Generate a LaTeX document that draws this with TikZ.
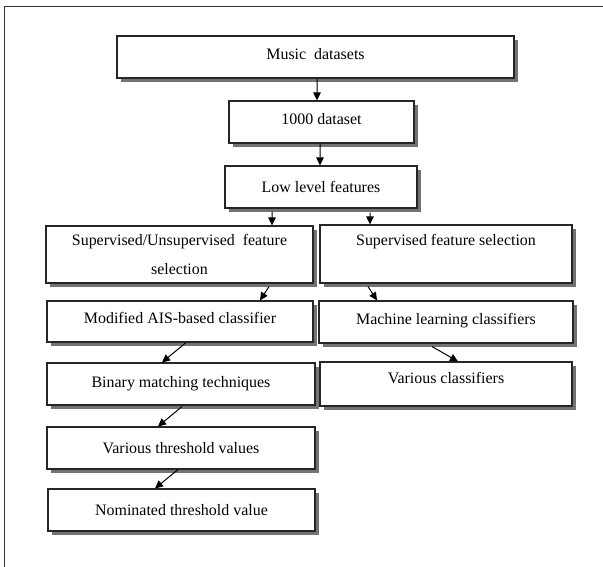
\documentclass[tikz,border=0pt]{standalone}
\usepackage{fontspec}
\setmainfont{Liberation Serif}
\usetikzlibrary{arrows.meta,shadows}
\tikzset{
  flowbox/.style={draw=black!85, line width=1.1bp, fill=white, inner sep=0pt,
    align=center, font=\fontsize{16}{19}\selectfont,
    general shadow={fill=black!55, shadow xshift=4bp, shadow yshift=-4bp}},
  flowarr/.style={draw=black, line width=1bp, -{Triangle[length=8bp,width=7.5bp]}},
  frameline/.style={draw=black!80, line width=1.2bp}
}
\begin{document}
\begin{tikzpicture}[x=1bp,y=-1bp]
\useasboundingbox (0,0) rectangle (603,567);
\draw[frameline] (4.7,567) -- (4.7,6.5) -- (603,6.5);

\node[flowbox, minimum width=397bp, minimum height=42bp, text depth=6bp] (music) at (315.5,57) {Music\ \ datasets};
\node[flowbox, minimum width=185bp, minimum height=42bp, text depth=6bp] (d1000) at (321.5,122) {1000 dataset};
\node[flowbox, minimum width=192bp, minimum height=42bp] (low) at (321,187) {Low level features};
\node[flowbox, minimum width=267bp, minimum height=57bp, font=\fontsize{16}{29}\selectfont] (sus) at (179.5,254.5) {Supervised/Unsupervised\ \ feature\\selection};
\node[flowbox, minimum width=252bp, minimum height=58bp, font=\fontsize{16}{29}\selectfont] (sfs) at (446,254) {Supervised feature selection\\\mbox{}};
\node[flowbox, minimum width=266bp, minimum height=41bp, text depth=7bp] (mod) at (180,321.5) {Modified AIS-based classifier};
\node[flowbox, minimum width=254bp, minimum height=42bp, text depth=7bp] (mlc) at (446,322) {Machine learning classifiers};
\node[flowbox, minimum width=268bp, minimum height=42bp] (bin) at (181,384) {Binary matching techniques};
\node[flowbox, minimum width=252bp, minimum height=44bp, text depth=12bp] (vcl) at (446,384) {Various classifiers};
\node[flowbox, minimum width=268bp, minimum height=42bp] (vth) at (181,448) {Various threshold values};
\node[flowbox, minimum width=267bp, minimum height=42bp] (nom) at (181.5,510) {Nominated threshold value};

\draw[flowarr] ([xshift=1.5bp]music.south) -- ([xshift=-4.5bp]d1000.north);
\draw[flowarr] ([xshift=-1.5bp]d1000.south) -- ([xshift=-1bp]low.north);
\draw[flowarr] ([xshift=-49bp,yshift=-3bp]low.south) -- ([xshift=92.5bp]sus.north);
\draw[flowarr] ([xshift=49bp,yshift=-4bp]low.south) -- ([xshift=-76bp]sfs.north);
\draw[flowarr] ([xshift=89.5bp,yshift=-3bp]sus.south) -- ([xshift=80bp]mod.north);
\draw[flowarr] ([xshift=-78bp,yshift=-3bp]sfs.south) -- ([xshift=-69bp]mlc.north);
\draw[flowarr] ([xshift=6bp]mod.south) -- ([xshift=-19bp]bin.north);
\draw[flowarr] ([xshift=-14bp,yshift=-3bp]mlc.south) -- ([xshift=12bp]vcl.north);
\draw[flowarr] ([xshift=1bp,yshift=-1bp]bin.south) -- ([xshift=-23bp]vth.north);
\draw[flowarr] ([xshift=-3bp]vth.south) -- ([xshift=-26.5bp]nom.north);
\end{tikzpicture}
\end{document}
